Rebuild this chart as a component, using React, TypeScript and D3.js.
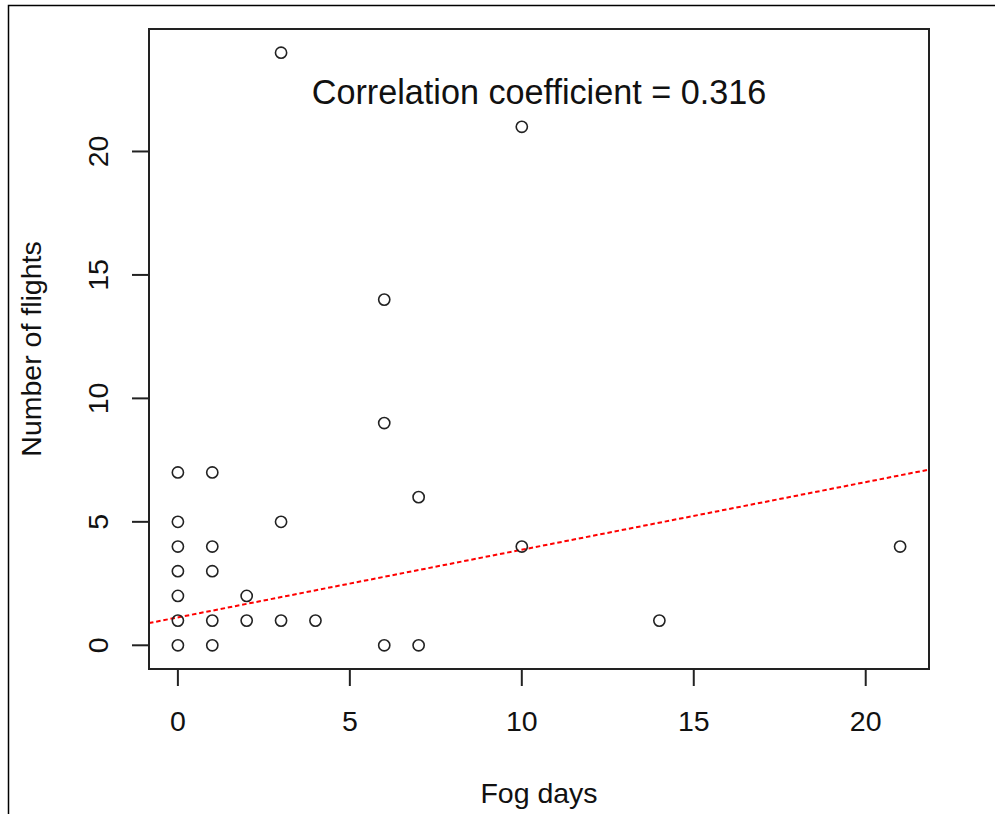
import React from "react";
import * as d3 from "d3";

// fog days (x) and number of flights (y)
const fogDays = [3, 10, 6, 6, 0, 1, 7, 0, 3, 0, 1, 10, 21, 0, 1, 0, 2, 0, 1, 2, 3, 4, 14, 0, 1, 6, 7];
const flights = [24, 21, 14, 9, 7, 7, 6, 5, 5, 4, 4, 4, 4, 3, 3, 2, 2, 1, 1, 1, 1, 1, 1, 0, 0, 0, 0];

const xTicks = [0, 5, 10, 15, 20];
const yTicks = [0, 5, 10, 15, 20];

// fitted line as drawn (abline)
const fitIntercept = 1.13;
const fitSlope = 0.274;
const corrLabel = "Correlation coefficient = 0.316";

const W = 995;
const H = 814;
const margin = { top: 29, right: 66, bottom: 145, left: 149 };
const font = "'Liberation Sans', Arial, sans-serif";
const ink = "#222";

const App = () => {
  const xDom = [d3.min(fogDays)!, d3.max(fogDays)!];
  const yDom = [d3.min(flights)!, d3.max(flights)!];
  const xPad = (xDom[1] - xDom[0]) * 0.04;
  const yPad = (yDom[1] - yDom[0]) * 0.04;

  const x = d3.scaleLinear()
    .domain([xDom[0] - xPad, xDom[1] + xPad])
    .range([margin.left, W - margin.right]);
  const y = d3.scaleLinear()
    .domain([yDom[0] - yPad, yDom[1] + yPad])
    .range([H - margin.bottom, margin.top]);

  const [x0, x1] = x.domain();
  const fitLine = d3.line<number>()
    .x(d => x(d))
    .y(d => y(fitIntercept + fitSlope * d))([x0, x1]);

  const left = margin.left;
  const right = W - margin.right;
  const top = margin.top;
  const bottom = H - margin.bottom;
  const tickLen = 17;
  const midX = (left + right) / 2;
  const midY = (top + bottom) / 2;

  return (
    <svg width={W} height={H} style={{ position: "absolute", left: 0, top: 0, background: "#fff" }}>
      {/* outer frame of the screenshot */}
      <path d={`M8.5,${H} V5.5 H${W}`} fill="none" stroke="#000" strokeWidth={1.5} />

      {/* regression line */}
      <path d={fitLine!} fill="none" stroke="#ff0000" strokeWidth={2} strokeDasharray="4.5 2.8" />

      {/* points */}
      {fogDays.map((d, i) => (
        <circle key={i} cx={x(d)} cy={y(flights[i])} r={5.6} fill="none" stroke={ink} strokeWidth={1.6} />
      ))}

      {/* plot box */}
      <rect x={left} y={top} width={right - left} height={bottom - top} fill="none" stroke={ink} strokeWidth={2} />

      {/* x axis */}
      <line x1={x(xTicks[0])} x2={x(xTicks[xTicks.length - 1])} y1={bottom} y2={bottom} stroke={ink} strokeWidth={2} />
      {xTicks.map(t => (
        <g key={t}>
          <line x1={x(t)} x2={x(t)} y1={bottom} y2={bottom + tickLen} stroke={ink} strokeWidth={2} />
          <text x={x(t)} y={731} textAnchor="middle" fontFamily={font} fontSize={28.5} fill="#111">{t}</text>
        </g>
      ))}

      {/* y axis */}
      {yTicks.map(t => (
        <g key={t}>
          <line x1={left - tickLen} x2={left} y1={y(t)} y2={y(t)} stroke={ink} strokeWidth={2} />
          <text transform={`translate(108,${y(t)}) rotate(-90)`} textAnchor="middle" fontFamily={font} fontSize={28.5} fill="#111">{t}</text>
        </g>
      ))}

      {/* labels */}
      <text x={midX} y={803} textAnchor="middle" fontFamily={font} fontSize={28.5} fill="#111">Fog days</text>
      <text transform={`translate(41,${midY}) rotate(-90)`} textAnchor="middle" fontFamily={font} fontSize={28.5} fill="#111">Number of flights</text>
      <text x={midX} y={104} textAnchor="middle" fontFamily={font} fontSize={34.2} fill="#111">{corrLabel}</text>
    </svg>
  );
};

export default App;
